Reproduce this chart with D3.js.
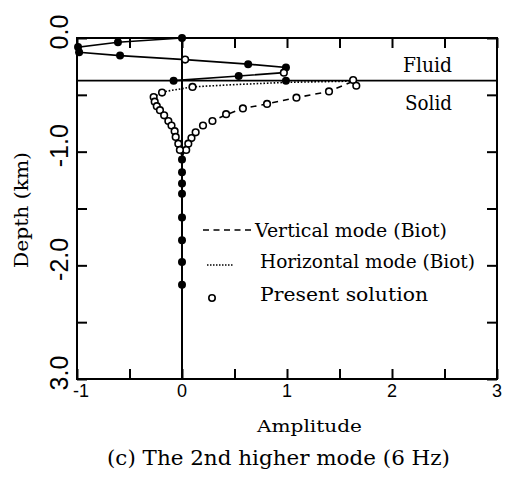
<!DOCTYPE html>
<html><head><meta charset="utf-8">
<script src="https://cdn.jsdelivr.net/npm/d3@7"></script>
<style>body{margin:0;background:#fff}</style>
</head><body>
<svg id="c" width="512" height="481"></svg>
<script>
// ---------- data ----------
const xTickValues = [-1, 0, 1, 2, 3];
const xTickLabels = ["-1", "0", "1", "2", "3"];
const yTickValues = [0, 1, 2, 3];
const yTickLabels = ["0.0", "-1.0", "-2.0", "3.0"];
const interfaceDepth = 0.375;

// fluid layer profile (solid line)
const fluidAmp   = [0, -0.61, -0.99, -0.98, -0.59, 0.03, 0.63, 0.99, 0.97, 0.54, -0.08];
const fluidDepth = [0, 0.038, 0.08, 0.126, 0.155, 0.19, 0.23, 0.26, 0.305, 0.334, 0.375];

// filled dots
const dotAmp   = [0, -0.61, -0.99, -0.98, -0.59, 0.63, 0.99, 0.54, -0.08, 0.99, 0, 0, 0, 0, 0, 0, 0, 0];
const dotDepth = [0, 0.038, 0.08, 0.126, 0.155, 0.23, 0.26, 0.334, 0.375, 0.375, 1.07, 1.18, 1.28, 1.37, 1.58, 1.78, 1.97, 2.17];

// Vertical mode (Biot) - dashed
const vertAmp   = [1.62, 1.40, 1.09, 0.81, 0.58, 0.42, 0.29, 0.20, 0.13, 0.09, 0.045, 0.02, 0];
const vertDepth = [0.385, 0.47, 0.525, 0.58, 0.62, 0.675, 0.73, 0.775, 0.83, 0.88, 0.955, 1.0, 1.05];

// Horizontal mode (Biot) - dotted
const horAmp   = [1.6, 1.0, 0.5, 0.10, -0.19, -0.27, -0.25, -0.20, -0.15, -0.11, -0.07, -0.04, -0.02, 0];
const horDepth = [0.38, 0.39, 0.41, 0.43, 0.475, 0.52, 0.58, 0.64, 0.70, 0.75, 0.82, 0.90, 0.97, 1.05];

// Present solution (open circles)
const presAmp   = [0.03, 0.97,
  1.63, 1.66, 1.40, 1.09, 0.81, 0.58, 0.42, 0.29, 0.20, 0.13, 0.09, 0.06, 0.04,
  0.10, -0.19, -0.27, -0.26, -0.24, -0.21, -0.17, -0.13, -0.10, -0.07, -0.06, -0.035, -0.02];
const presDepth = [0.19, 0.305,
  0.37, 0.42, 0.47, 0.525, 0.58, 0.62, 0.67, 0.73, 0.77, 0.83, 0.88, 0.93, 0.985,
  0.43, 0.48, 0.52, 0.56, 0.60, 0.635, 0.68, 0.73, 0.77, 0.82, 0.87, 0.93, 0.985];

const legendLabels = ["Vertical mode (Biot)", "Horizontal mode (Biot)", "Present solution"];

// ---------- layout ----------
const L = 77, R = 497, T = 38, B = 379;
const x = d3.scaleLinear().domain([-1, 3]).range([L, R]);
const y = d3.scaleLinear().domain([0, 3]).range([T, B]);
const svg = d3.select("#c");
const serif = "'DejaVu Serif', serif";
const sans = "'Liberation Sans', Arial, sans-serif";

const zip = (a, b) => a.map((v, i) => [v, b[i]]);
const line = d3.line().x(d => x(d[0])).y(d => y(d[1]));

// zero line and interface
svg.append("line").attr("x1", x(0)).attr("x2", x(0)).attr("y1", y(0)).attr("y2", y(3))
  .attr("stroke", "#000").attr("stroke-width", 2);
svg.append("line").attr("x1", x(-1)).attr("x2", x(3)).attr("y1", y(interfaceDepth)).attr("y2", y(interfaceDepth))
  .attr("stroke", "#000").attr("stroke-width", 1.6);

// curves
svg.append("path").attr("d", line(zip(fluidAmp, fluidDepth))).attr("fill", "none")
  .attr("stroke", "#000").attr("stroke-width", 1.6);
svg.append("path").attr("d", line(zip(vertAmp, vertDepth))).attr("fill", "none")
  .attr("stroke", "#000").attr("stroke-width", 1.6).attr("stroke-dasharray", "6,5");
svg.append("path").attr("d", line(zip(horAmp, horDepth))).attr("fill", "none")
  .attr("stroke", "#000").attr("stroke-width", 1.6).attr("stroke-dasharray", "1.6,1.8");

// filled dots
svg.append("g").selectAll("circle").data(zip(dotAmp, dotDepth)).join("circle")
  .attr("cx", d => x(d[0])).attr("cy", d => y(d[1])).attr("r", 4).attr("fill", "#000");

// open circles
svg.append("g").selectAll("circle").data(zip(presAmp, presDepth)).join("circle")
  .attr("cx", d => x(d[0])).attr("cy", d => y(d[1])).attr("r", 3.3)
  .attr("fill", "#fff").attr("stroke", "#000").attr("stroke-width", 1.6);

// frame
svg.append("rect").attr("x", L).attr("y", T).attr("width", R - L).attr("height", B - T)
  .attr("fill", "none").attr("stroke", "#000").attr("stroke-width", 2);

// axes (inward ticks)
const xt = d3.range(-1, 3.001, 0.5), yt = d3.range(0, 3.001, 0.5);
const tk = 10;
svg.append("g").attr("transform", `translate(0,${B})`)
  .call(d3.axisTop(x).tickValues(xt).tickSize(tk).tickFormat("").tickSizeOuter(0))
  .call(g => g.select(".domain").remove()).selectAll("line").attr("stroke-width", 2);
svg.append("g").attr("transform", `translate(0,${T})`)
  .call(d3.axisBottom(x).tickValues(xt).tickSize(tk).tickFormat("").tickSizeOuter(0))
  .call(g => g.select(".domain").remove()).selectAll("line").attr("stroke-width", 2);
svg.append("g").attr("transform", `translate(${L},0)`)
  .call(d3.axisRight(y).tickValues(yt).tickSize(tk).tickFormat("").tickSizeOuter(0))
  .call(g => g.select(".domain").remove()).selectAll("line").attr("stroke-width", 2);
svg.append("g").attr("transform", `translate(${R},0)`)
  .call(d3.axisLeft(y).tickValues(yt).tickSize(tk).tickFormat("").tickSizeOuter(0))
  .call(g => g.select(".domain").remove()).selectAll("line").attr("stroke-width", 2);

// tick labels
svg.append("g").selectAll("text").data(xTickValues).join("text")
  .attr("x", d => x(d) + (d < 0 ? 4 : 0)).attr("y", 397).attr("text-anchor", "middle")
  .attr("font-family", sans).attr("font-size", 18).text((d, i) => xTickLabels[i]);
svg.append("g").selectAll("text").data(yTickValues).join("text")
  .attr("transform", d => `translate(68,${y(d) - 6}) rotate(-90)`).attr("text-anchor", "middle")
  .attr("font-family", sans).attr("font-size", 25).text((d, i) => yTickLabels[i]);

// titles
svg.append("text").attr("transform", "translate(28,210) rotate(-90)").attr("text-anchor", "middle")
  .attr("font-family", serif).attr("font-size", 19).attr("textLength", 116).attr("lengthAdjust", "spacingAndGlyphs")
  .text("Depth (km)");
svg.append("text").attr("x", 257).attr("y", 432).attr("font-family", serif).attr("font-size", 17)
  .attr("textLength", 105).attr("lengthAdjust", "spacingAndGlyphs").text("Amplitude");
svg.append("text").attr("x", 107).attr("y", 465).attr("font-family", serif).attr("font-size", 21)
  .attr("textLength", 343).attr("lengthAdjust", "spacingAndGlyphs").text("(c) The 2nd higher mode (6 Hz)");
svg.append("text").attr("x", 403).attr("y", 72).attr("font-family", serif).attr("font-size", 20)
  .attr("textLength", 49).attr("lengthAdjust", "spacingAndGlyphs").text("Fluid");
svg.append("text").attr("x", 405).attr("y", 110).attr("font-family", serif).attr("font-size", 20)
  .attr("textLength", 47).attr("lengthAdjust", "spacingAndGlyphs").text("Solid");

// legend
const lg = svg.append("g");
lg.append("line").attr("x1", 203).attr("x2", 255).attr("y1", 230).attr("y2", 230)
  .attr("stroke", "#000").attr("stroke-width", 1.6).attr("stroke-dasharray", "6,4.5");
lg.append("line").attr("x1", 207).attr("x2", 234).attr("y1", 265).attr("y2", 265)
  .attr("stroke", "#000").attr("stroke-width", 1.4).attr("stroke-dasharray", "1.5,1.5");
lg.append("circle").attr("cx", 212).attr("cy", 298).attr("r", 3.2)
  .attr("fill", "#fff").attr("stroke", "#000").attr("stroke-width", 1.6);
const lgPos = [[255, 237, 192], [260, 268, 215], [260, 301, 168]];
lg.selectAll("text").data(legendLabels).join("text")
  .attr("x", (d, i) => lgPos[i][0]).attr("y", (d, i) => lgPos[i][1])
  .attr("textLength", (d, i) => lgPos[i][2]).attr("lengthAdjust", "spacingAndGlyphs")
  .attr("font-family", serif).attr("font-size", 18).text(d => d);
</script>
</body></html>
